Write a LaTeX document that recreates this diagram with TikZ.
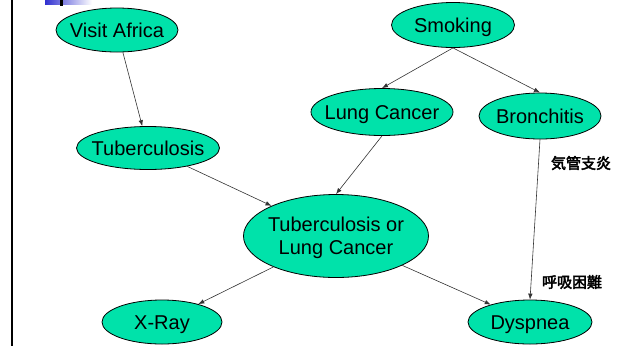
\documentclass[tikz,border=0pt]{standalone}
\usepackage{fontspec}
\setmainfont{Liberation Sans}
\newfontfamily\jpfont[FakeBold=3]{Noto Sans CJK JP}
\usetikzlibrary{shapes.geometric,arrows.meta}
\definecolor{nodegreen}{RGB}{0,226,170}
\definecolor{barblue}{RGB}{48,48,208}
\newcommand{\vartext}[2][-7.2pt]{\makebox[0pt]{\smash{\raisebox{#1}{\begin{tabular}[t]{@{}c@{}}#2\end{tabular}}}}}
\tikzset{
  var/.style={ellipse, draw=black, line width=0.8pt, fill=nodegreen, inner sep=0pt,
    font=\fontsize{20}{23}\selectfont},
  link/.style={-{Latex[length=6pt,width=4.5pt]}, draw=black!80, line width=0.6pt},
  jplabel/.style={font=\jpfont\fontsize{15}{17}\selectfont}
}
\begin{document}
\begin{tikzpicture}[x=1pt,y=-1pt]
  \useasboundingbox (0,0) rectangle (618,346);
  % slide decoration
  \fill[black] (11,0) rectangle (13,346);
  \shade[left color=barblue, right color=white] (45,0) rectangle (92,4);
  \fill[black] (60,0) rectangle (63,6);
  % variables
  \node[var, minimum width=122pt, minimum height=44pt] (africa) at (117,30) {\vartext{Visit Africa}};
  \node[var, minimum width=123pt, minimum height=45pt] (smoking) at (453,25) {\vartext{Smoking}};
  \node[var, minimum width=142pt, minimum height=47pt] (cancer) at (382,112) {\vartext{Lung Cancer}};
  \node[var, minimum width=122pt, minimum height=46pt] (bronchitis) at (540,116) {\vartext{Bronchitis}};
  \node[var, minimum width=143pt, minimum height=43pt] (tuber) at (148,148) {\vartext{Tuberculosis}};
  \node[var, minimum width=185pt, minimum height=83pt] (either) at (336,236) {\vartext[4.4pt]{Tuberculosis or\\Lung Cancer}};
  \node[var, minimum width=120pt, minimum height=44pt] (xray) at (162,322) {\vartext{X-Ray}};
  \node[var, minimum width=124pt, minimum height=44pt] (dyspnea) at (530,322) {\vartext{Dyspnea}};
  % links
  \draw[link] (africa) -- (tuber);
  \draw[link] (smoking.south) -- (cancer.north);
  \draw[link] (smoking.south) -- (bronchitis.north);
  \draw[link] (cancer.south) -- (either.north);
  \draw[link] (tuber) -- (either);
  \draw[link] (either) -- (xray);
  \draw[link] (either) -- (dyspnea);
  \draw[link] (bronchitis.south) -- (dyspnea.north);
  % labels
  \node[jplabel] (bronchitisjp) at (581,163) {気管支炎};
  \node[jplabel] (dyspneajp) at (572,282) {呼吸困難};
\end{tikzpicture}
\end{document}
